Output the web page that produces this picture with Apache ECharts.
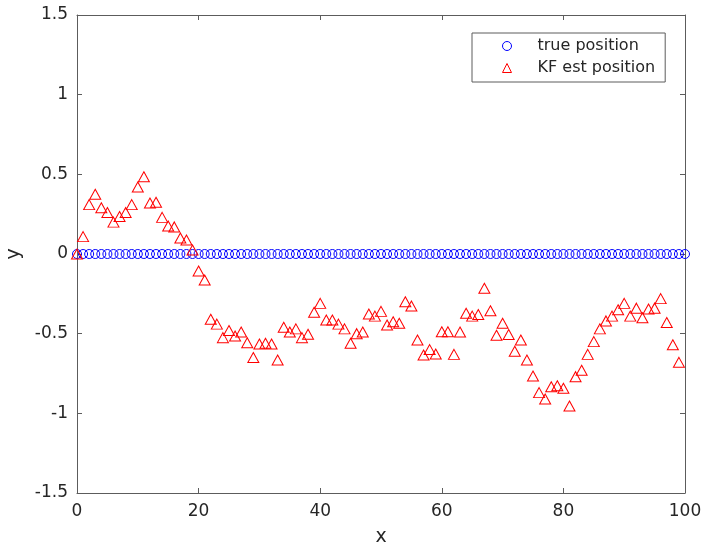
<!DOCTYPE html>
<html>
<head>
<meta charset="utf-8">
<script src="https://cdn.jsdelivr.net/npm/echarts@6/dist/echarts.min.js"></script>
<style>
html,body{margin:0;padding:0;background:#fff;}
#chart{width:705px;height:550px;}
</style>
</head>
<body>
<div id="chart"></div>
<script>
// x positions (steps)
var xTrue = [];
for (var i = 0; i <= 100; i++) xTrue.push(i);
var trueY = [];
for (var j = 0; j <= 100; j++) trueY.push(0);

var estY = [
  0.0, 0.109, 0.31, 0.375, 0.29, 0.26, 0.20, 0.235, 0.26, 0.31,
  0.42, 0.485, 0.32, 0.325, 0.23, 0.176, 0.17, 0.10, 0.088, 0.025,
  -0.107, -0.163, -0.41, -0.44, -0.525, -0.48, -0.515, -0.49, -0.557, -0.65,
  -0.565, -0.56, -0.565, -0.665, -0.46, -0.49, -0.47, -0.525, -0.504, -0.366,
  -0.31, -0.414, -0.414, -0.44, -0.47, -0.56, -0.5, -0.49, -0.377, -0.39,
  -0.36, -0.446, -0.425, -0.435, -0.30, -0.326, -0.54, -0.634, -0.60, -0.628,
  -0.488, -0.488, -0.63, -0.49, -0.372, -0.39, -0.38, -0.215, -0.356, -0.51,
  -0.435, -0.505, -0.61, -0.54, -0.665, -0.766, -0.87, -0.91, -0.833, -0.827,
  -0.843, -0.954, -0.77, -0.73, -0.63, -0.55, -0.47, -0.42, -0.39, -0.35,
  -0.31, -0.39, -0.34, -0.40, -0.345, -0.34, -0.28, -0.43, -0.57, -0.68
];

var seriesNames = ['true position', 'KF est position'];

var truePts = xTrue.map(function (x, k) { return [x, trueY[k]]; });
var estPts = estY.map(function (y, k) { return [k, y]; });

var axisCol = '#5c5c5c';
var txtCol = '#262626';
var font = 'DejaVu Sans';

function axisCommon(extra) {
  var base = {
    axisLine: {show: true, onZero: false, lineStyle: {color: axisCol, width: 1}},
    axisTick: {show: true, inside: true, length: 5, lineStyle: {color: axisCol}},
    splitLine: {show: false}
  };
  for (var k in extra) base[k] = extra[k];
  return base;
}

var chart = echarts.init(document.getElementById('chart'), null, {renderer: 'canvas'});
chart.setOption({
  animation: false,
  backgroundColor: '#ffffff',
  grid: {left: 77, right: 20, top: 15, bottom: 57, containLabel: false, outerBoundsMode: 'none'},
  legend: {
    left: 472, top: 33,
    orient: 'vertical',
    selectedMode: false,
    backgroundColor: '#ffffff',
    borderColor: axisCol,
    borderWidth: 1,
    borderRadius: 0,
    padding: [4, 10, 5, 30],
    itemGap: 4,
    itemWidth: 9,
    itemHeight: 9,
    textStyle: {fontFamily: font, fontSize: 16, color: txtCol, lineHeight: 18, padding: [0, 0, 0, 21]},
    data: [
      {name: seriesNames[0], icon: 'circle', itemStyle: {color: 'rgba(0,0,0,0)', borderColor: '#0000ff', borderWidth: 1}},
      {name: seriesNames[1], icon: 'triangle', itemStyle: {color: 'rgba(0,0,0,0)', borderColor: '#ff0000', borderWidth: 1}}
    ]
  },
  xAxis: [
    axisCommon({
      type: 'value', min: 0, max: 100, interval: 20, position: 'bottom',
      name: 'x', nameLocation: 'middle', nameGap: 35,
      nameTextStyle: {fontFamily: font, fontSize: 19, color: txtCol},
      axisLabel: {fontFamily: font, fontSize: 17, color: txtCol, margin: 10}
    }),
    axisCommon({
      type: 'value', min: 0, max: 100, interval: 20, position: 'top',
      axisLabel: {show: false}
    })
  ],
  yAxis: [
    axisCommon({
      type: 'value', min: -1.5, max: 1.5, interval: 0.5, position: 'left',
      name: 'y', nameLocation: 'middle', nameGap: 49,
      nameTextStyle: {fontFamily: font, fontSize: 19, color: txtCol},
      axisLabel: {fontFamily: font, fontSize: 17, color: txtCol, margin: 9}
    }),
    axisCommon({
      type: 'value', min: -1.5, max: 1.5, interval: 0.5, position: 'right',
      axisLabel: {show: false}
    })
  ],
  series: [{
    name: seriesNames[0],
    type: 'scatter',
    xAxisIndex: 0, yAxisIndex: 0,
    symbol: 'circle',
    symbolSize: 9,
    itemStyle: {color: 'rgba(0,0,0,0)', borderColor: '#0000ff', borderWidth: 1, opacity: 1},
    emphasis: {disabled: true},
    data: truePts,
    z: 2
  }, {
    name: seriesNames[1],
    type: 'scatter',
    xAxisIndex: 0, yAxisIndex: 0,
    symbol: 'triangle',
    symbolSize: [11, 10],
    itemStyle: {color: 'rgba(0,0,0,0)', borderColor: '#ff0000', borderWidth: 1, opacity: 1},
    emphasis: {disabled: true},
    data: estPts,
    z: 3
  }]
});
</script>
</body>
</html>
